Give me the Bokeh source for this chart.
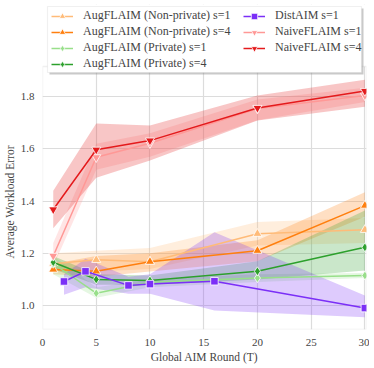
from bokeh.plotting import figure
from bokeh.models import (Range1d, FixedTicker, Legend, LegendItem, PrintfTickFormatter,
                          BoxAnnotation, Title)
from bokeh.embed import file_html
from bokeh.resources import INLINE

# ---- data ----
x_aug = [1, 5, 10, 20, 30]
np1 = [1.16, 1.175, 1.168, 1.275, 1.29]
np1_lo = [1.13, 1.13, 1.14, 1.23, 1.24]
np1_hi = [1.20, 1.21, 1.22, 1.32, 1.335]
np4 = [1.138, 1.131, 1.168, 1.21, 1.383]
np4_lo = [1.12, 1.11, 1.13, 1.17, 1.34]
np4_hi = [1.16, 1.19, 1.20, 1.25, 1.434]
pr1 = [1.16, 1.047, 1.089, 1.105, 1.115]
pr1_lo = [1.12, 1.03, 1.07, 1.09, 1.105]
pr1_hi = [1.19, 1.07, 1.10, 1.12, 1.125]
pr4 = [1.166, 1.10, 1.096, 1.131, 1.223]
pr4_lo = [1.14, 1.08, 1.08, 1.10, 1.134]
pr4_hi = [1.19, 1.12, 1.115, 1.17, 1.364]

x_dist = [2, 4, 8, 10, 16, 30]
dist = [1.092, 1.131, 1.077, 1.082, 1.093, 0.99]
dist_lo = [1.041, 1.07, 1.045, 1.045, 0.981, 0.955]
dist_hi = [1.12, 1.179, 1.11, 1.12, 1.281, 1.038]

x_naive = [1, 5, 10, 20, 30]
nv1 = [1.19, 1.568, 1.622, 1.755, 1.805]
nv1_lo = [1.15, 1.52, 1.57, 1.71, 1.78]
nv1_hi = [1.24, 1.62, 1.66, 1.79, 1.835]
nv4 = [1.368, 1.597, 1.632, 1.757, 1.822]
nv4_lo = [1.296, 1.49, 1.556, 1.709, 1.762]
nv4_hi = [1.44, 1.698, 1.69, 1.805, 1.865]

x_ticks = [0, 5, 10, 15, 20, 25, 30]
y_ticks = [1.0, 1.2, 1.4, 1.6, 1.8]

FONT = "Liberation Serif"
TOP = 4                      # canvas y of the (extended) frame top
FW, FH = 324, 329 - TOP      # frame size in px (top part hosts the legend)
X0, X1 = 0.0, 30.15
Y0, YTOP = 0.908, 1.916      # visible axes area
PXY = 260.9                  # px per y unit
Y1 = Y0 + FH / PXY           # extended top for the legend strip
PXX = FW / (X1 - X0)

series = [
    ("AugFLAIM (Non-private) s=1", x_aug, np1, np1_lo, np1_hi, "#ffbb78", "triangle"),
    ("AugFLAIM (Non-private) s=4", x_aug, np4, np4_lo, np4_hi, "#ff7f0e", "triangle"),
    ("AugFLAIM (Private) s=1", x_aug, pr1, pr1_lo, pr1_hi, "#98df8a", "diamond"),
    ("AugFLAIM (Private) s=4", x_aug, pr4, pr4_lo, pr4_hi, "#2ca02c", "diamond"),
    ("DistAIM s=1", x_dist, dist, dist_lo, dist_hi, "#7b2ff7", "square"),
    ("NaiveFLAIM s=1", x_naive, nv1, nv1_lo, nv1_hi, "#ff9896", "inverted_triangle"),
    ("NaiveFLAIM s=4", x_naive, nv4, nv4_lo, nv4_hi, "#e41a1c", "inverted_triangle"),
]

p = figure(frame_width=FW, frame_height=FH, output_backend="svg", toolbar_location=None,
           x_range=Range1d(X0, X1), y_range=Range1d(Y0, Y1),
           min_border_left=41, min_border_right=3, min_border_top=TOP, min_border_bottom=35)
p.background_fill_color = "white"
p.border_fill_color = "white"
p.outline_line_color = None

for ax in (p.xaxis, p.yaxis):
    ax.axis_line_color = None
    ax.major_tick_line_color = None
    ax.minor_tick_line_color = None
    ax.major_tick_out = 0
    ax.major_tick_in = 0
    ax.minor_tick_out = 0
    ax.minor_tick_in = 0
    ax.major_label_text_font = FONT
    ax.major_label_text_font_size = "11px"
    ax.major_label_text_color = "#444444"
    ax.axis_label_text_font = FONT
    ax.axis_label_text_font_size = "11.5px"
    ax.axis_label_text_font_style = "normal"
    ax.axis_label_text_color = "#444444"
    ax.axis_label_standoff = 2
p.xaxis.major_label_standoff = 9
p.yaxis.major_label_standoff = 8
p.xaxis.ticker = FixedTicker(ticks=x_ticks)
p.yaxis.ticker = FixedTicker(ticks=y_ticks)
p.yaxis.formatter = PrintfTickFormatter(format="%.1f")
p.xaxis.axis_label = "Global AIM Round (T)"
p.grid.grid_line_color = "#dcdcdc"
p.grid.grid_line_width = 1.2

# y axis title, centred on the visible axes area
ytitle = Title(text="Average Workload Error", align="left",
               offset=(329 - 258), standoff=3,
               text_font=FONT, text_font_size="11.5px", text_font_style="normal",
               text_color="#444444")
p.add_layout(ytitle, "left")

for name, xs, ys, lo, hi, col, mk in series:
    p.varea(x=xs, y1=lo, y2=hi, fill_color=col, fill_alpha=0.25)
for name, xs, ys, lo, hi, col, mk in series:
    p.line(xs, ys, line_color=col, line_width=1.5)
    size = 7.5 if mk == "square" else 9
    p.scatter(xs, ys, marker=mk, size=size, fill_color=col, line_color="white", line_width=0.8)

# white cover above the axes area and the axes outline
p.add_layout(BoxAnnotation(bottom=YTOP, fill_color="white", fill_alpha=1.0,
                           line_color=None))
p.add_layout(BoxAnnotation(left=X0, right=X1, bottom=Y0, top=YTOP, fill_alpha=0.0,
                           line_color="#cccccc", line_width=1.4))

# legend frame (shadow + box): page x 46..360, page y 6..72
lb_left = X0 + 5 / PXX
lb_right = X0 + 319 / PXX
lb_bottom = YTOP - 6 / PXY
lb_top = Y0 + (329 - 6) / PXY
p.add_layout(BoxAnnotation(left=lb_left + 2 / PXX, right=lb_right + 2 / PXX,
                           bottom=lb_bottom - 2 / PXY, top=lb_top - 2 / PXY,
                           fill_color="#888888", fill_alpha=0.45, line_color=None))
p.add_layout(BoxAnnotation(left=lb_left, right=lb_right, bottom=lb_bottom, top=lb_top,
                           fill_color="white", fill_alpha=1.0,
                           line_color="#cccccc", line_width=1.2))

def make_items(sub):
    its = []
    for name, xs, ys, lo, hi, col, mk in sub:
        r1 = p.line(x=[-50, -40], y=[-50, -50], line_color=col, line_width=1.5)
        r2 = p.scatter(x=[-50], y=[-50], marker=mk, size=8, fill_color=col,
                       line_color="white", line_width=0.8)
        its.append(LegendItem(label=name, renderers=[r1, r2]))
    return its

def style(lg):
    lg.label_text_font = FONT
    lg.label_text_font_size = "12px"
    lg.label_text_color = "#444444"
    lg.glyph_width = 22
    lg.glyph_height = 16
    lg.label_height = 16
    lg.spacing = 0
    lg.padding = 0
    lg.margin = 0
    lg.label_standoff = 10
    lg.border_line_color = None
    lg.background_fill_alpha = 0.0

leg1 = Legend(items=make_items(series[:4]), location=(9, FH - 3.5 - 64))
leg2 = Legend(items=make_items(series[4:]), location=(201, FH - 3.5 - 48))
style(leg1)
style(leg2)
p.add_layout(leg1, "center")
p.add_layout(leg2, "center")

open("out.html", "w").write(file_html(p, INLINE))
